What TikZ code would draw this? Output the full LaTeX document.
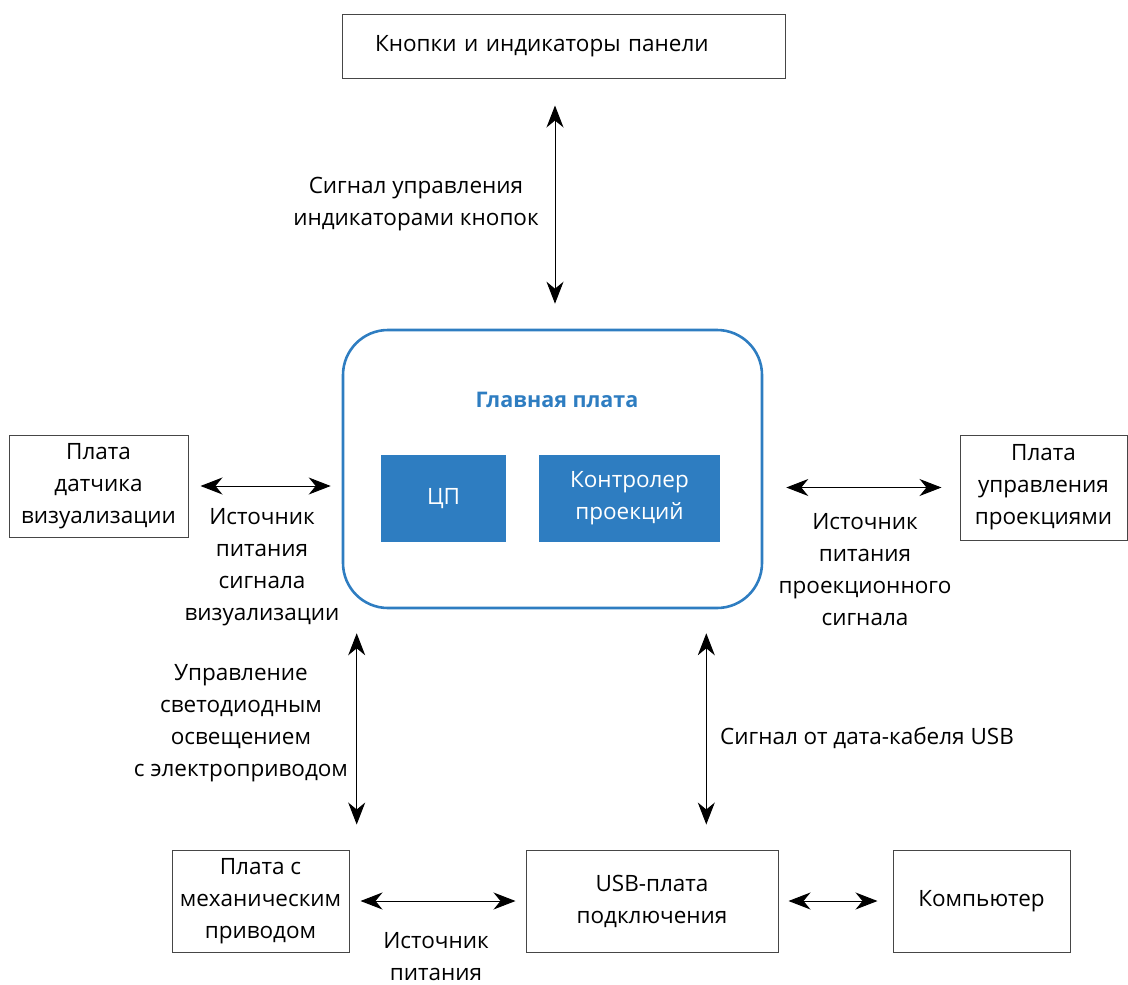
\documentclass[tikz,border=0pt]{standalone}
\usepackage{fontspec}
\setmainfont{Open Sans}
\usetikzlibrary{arrows.meta,positioning,calc}
\definecolor{plate}{RGB}{46,125,193}
\definecolor{frame}{RGB}{70,70,70}
\tikzset{
  board/.style={rectangle, draw=frame, line width=1pt, align=center, inner sep=0pt},
  mainb/.style={rectangle, draw=plate, line width=2.6pt, rounded corners=45pt, inner sep=0pt},
  chip/.style={rectangle, fill=plate, text=white, align=center, inner sep=0pt},
  lbl/.style={align=center, inner sep=0pt},
  line/.style={draw, line width=1pt, {Stealth[length=22pt,width=17pt,inset=7pt]}-{Stealth[length=22pt,width=17pt,inset=7pt]}},
}

\begin{document}
\begin{tikzpicture}[x=1pt,y=-1pt,font=\fontsize{22.5}{32}\selectfont]
    \useasboundingbox (0,0) rectangle (1128,985);

    % boxes
    \node[board,align=left,text width=377pt,inner xsep=33pt,minimum height=64pt] (panel) at (563.5,46) {Кнопки и индикаторы панели};
    \node[mainb,minimum width=419pt,minimum height=278pt] (main) at (552.5,469) {};
    \node[font=\fontsize{21.5}{32}\selectfont\bfseries,text=plate] (title) at (557,400) {Главная плата};
    \node[chip,minimum width=125pt,minimum height=87pt] (cpu) at (443.5,498.5) {ЦП};
    \node[chip,minimum width=181pt,minimum height=87pt] (ctrl) at (629.5,498.5) {Контролер\\проекций};

    \node[board,minimum width=179pt,minimum height=102pt] (sensor) at (98.5,486) {Плата\\датчика\\визуализации};
    \node[board,minimum width=167pt,minimum height=105pt] (proj) at (1043.5,487.5) {Плата\\управления\\проекциями};
    \node[board,minimum width=177pt,minimum height=102pt] (mech) at (260.5,901) {Плата с\\механическим\\приводом};
    \node[board,minimum width=252pt,minimum height=102pt] (usb) at (652,901) {USB-плата\\подключения};
    \node[board,minimum width=177pt,minimum height=102pt] (pc) at (981.5,901) {Компьютер};

    % labels
    \node[lbl] (sigbtn) at (416,204) {Сигнал управления\\индикаторами кнопок};
    \node[lbl] (pwrvis) at (262,567) {Источник\\питания\\сигнала\\визуализации};
    \node[lbl] (pwrproj) at (865,570) {Источник\\питания\\проекционного\\сигнала};
    \node[lbl] (led) at (241,723) {Управление\\светодиодным\\освещением\\с электроприводом};
    \node[lbl,anchor=west] (usbsig) at (720,738) {Сигнал от дата-кабеля USB};
    \node[lbl] (pwr) at (436,957) {Источник\\питания};

    \begin{scope} [every path/.style=line]
      \path[shorten <=27pt,shorten >=25pt] ([xshift=2.5pt]main.north |- panel.south) -- ([xshift=2.5pt]main.north);
      \path[shorten <=12pt,shorten >=11pt] (sensor.east) -- (sensor.east -| main.west);
      \path[shorten <=23pt,shorten >=18pt] (proj.west -| main.east) -- (proj.west);
      \path[shorten <=24pt,shorten >=25pt] ([xshift=15pt]main.south west) -- ([xshift=15pt]main.south west |- mech.north);
      \path[shorten <=24pt,shorten >=25pt] ([xshift=-57pt]main.south east) -- ([xshift=-57pt]main.south east |- usb.north);
      \path[shorten <=11pt,shorten >=10pt] (mech.east) -- (usb.west);
      \path[shorten <=10pt,shorten >=15pt] (usb.east) -- (pc.west);
    \end{scope}

\end{tikzpicture}
\end{document}
